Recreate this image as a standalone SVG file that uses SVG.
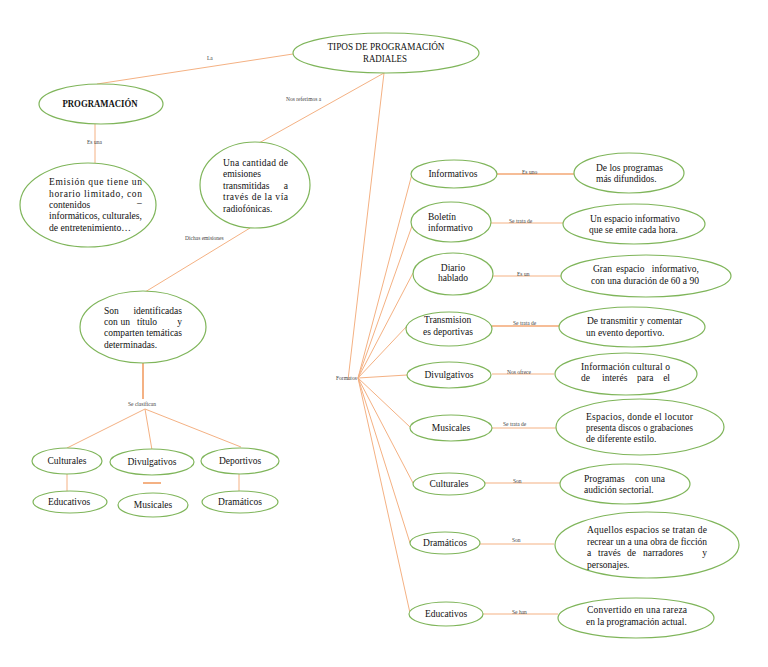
<svg xmlns="http://www.w3.org/2000/svg" width="768" height="667" viewBox="0 0 768 667">
<style>
.n{fill:#fff;stroke:#7fb55a;stroke-width:1.2}
.t{font-family:"Liberation Serif","Times New Roman","DejaVu Serif",serif;font-size:9.5px;fill:#111}
.c{text-anchor:middle}
.e{text-anchor:end}
.l{font-family:"Liberation Serif","Times New Roman",serif;font-size:5.5px;fill:#444}
.k{stroke:#f4b183;stroke-width:1;fill:none}
.d{stroke:#ed7d31;stroke-width:1.2;fill:none}
</style>
<rect width="768" height="667" fill="#fff"/>
<g id="connectors">
<line class="k" x1="293" y1="54" x2="97" y2="84"/>
<line class="k" x1="384" y1="73" x2="259" y2="143"/>
<line class="k" x1="384" y1="73" x2="348" y2="380"/>
<line class="k" x1="95" y1="124" x2="95" y2="163"/>
<line class="k" x1="250" y1="228" x2="145" y2="292"/>
<line class="d" x1="143" y1="363" x2="143" y2="399"/>
<line class="k" x1="145" y1="409" x2="67" y2="448"/>
<line class="k" x1="145" y1="409" x2="152" y2="450"/>
<line class="k" x1="145" y1="409" x2="241" y2="447"/>
<line class="k" x1="67" y1="474" x2="67" y2="492"/>
<line class="k" x1="239" y1="474" x2="239" y2="491"/>
<line class="d" x1="143" y1="483" x2="161" y2="483"/>
<line class="k" x1="358" y1="378" x2="412" y2="174"/>
<line class="k" x1="358" y1="378" x2="412" y2="226"/>
<line class="k" x1="358" y1="378" x2="413" y2="273"/>
<line class="k" x1="358" y1="378" x2="407" y2="326"/>
<line class="k" x1="358" y1="378" x2="407" y2="375"/>
<line class="k" x1="358" y1="378" x2="410" y2="427"/>
<line class="k" x1="358" y1="378" x2="413" y2="483"/>
<line class="k" x1="358" y1="378" x2="410" y2="543"/>
<line class="k" x1="358" y1="378" x2="410" y2="613"/>
<line class="d" x1="497" y1="174" x2="574" y2="174"/>
<line class="k" x1="491" y1="223" x2="563" y2="223"/>
<line class="k" x1="493" y1="276" x2="561" y2="276"/>
<line class="d" x1="492" y1="326" x2="559" y2="326"/>
<line class="k" x1="492" y1="374" x2="554" y2="374"/>
<line class="k" x1="492" y1="428" x2="556" y2="428"/>
<line class="d" x1="485" y1="483" x2="560" y2="483" style="stroke-opacity:0.6"/>
<line class="k" x1="480" y1="544" x2="554" y2="544"/>
<line class="k" x1="483" y1="614" x2="558" y2="614"/>
<text class="l" x="207" y="60">La</text>
<text class="l" x="286" y="101">Nos referimos a</text>
<text class="l" x="87" y="144">Es una</text>
<text class="l" x="185" y="240">Dichas emisiones</text>
<text class="l" x="128" y="406">Se clasifican</text>
<text class="l" x="336" y="380">Formatos</text>
<text class="l" x="522" y="174">Es uno</text>
<text class="l" x="509" y="223">Se trata de</text>
<text class="l" x="517" y="276">Es un</text>
<text class="l" x="513" y="325">Se trata de</text>
<text class="l" x="507" y="374">Nos ofrece</text>
<text class="l" x="503" y="426">Se trata de</text>
<text class="l" x="513" y="483">Son</text>
<text class="l" x="512" y="542">Son</text>
<text class="l" x="512" y="614">Se han</text>
</g>
<g id="tipos">
<ellipse class="n" cx="386" cy="53" rx="93" ry="20"/>
<text class="t c" x="386" y="50" font-size="10" textLength="117" lengthAdjust="spacingAndGlyphs">TIPOS DE PROGRAMACIÓN</text>
<text class="t c" x="385" y="62" font-size="10" textLength="44" lengthAdjust="spacingAndGlyphs">RADIALES</text>
</g>
<g id="programacion">
<ellipse class="n" cx="101" cy="104" rx="62" ry="20"/>
<text class="t c" x="100" y="107" font-size="10" font-weight="bold" textLength="75" lengthAdjust="spacingAndGlyphs">PROGRAMACIÓN</text>
</g>
<g id="emision">
<ellipse class="n" cx="88" cy="205" rx="68" ry="42"/>
<text class="t" x="49" y="185" textLength="93" lengthAdjust="spacing">Emisión que tiene un</text>
<text class="t" x="49" y="197" textLength="93" lengthAdjust="spacing">horario limitado, con</text>
<text class="t" x="49" y="207.5">contenidos</text>
<text class="t" x="137" y="206">–</text>
<text class="t" x="49" y="219" textLength="93" lengthAdjust="spacingAndGlyphs">informáticos, culturales,</text>
<text class="t" x="49" y="230.5" textLength="82" lengthAdjust="spacingAndGlyphs">de entretenimiento…</text>
</g>
<g id="cantidad">
<ellipse class="n" cx="255" cy="185" rx="55" ry="43"/>
<text class="t" x="223" y="165.5" textLength="65" lengthAdjust="spacing">Una cantidad de</text>
<text class="t" x="223" y="177">emisiones</text>
<text class="t" x="223" y="188.5">transmitidas</text>
<text class="t e" x="288" y="188.5">a</text>
<text class="t" x="223" y="200" textLength="65" lengthAdjust="spacing">través de la vía</text>
<text class="t" x="223" y="211.5">radiofónicas.</text>
</g>
<g id="identificadas">
<ellipse class="n" cx="143" cy="327" rx="63" ry="36"/>
<text class="t" x="104" y="314">Son</text>
<text class="t e" x="182" y="314">identificadas</text>
<text class="t" x="104" y="325">con</text>
<text class="t" x="120.5" y="325">un</text>
<text class="t" x="137" y="325">título</text>
<text class="t e" x="182" y="325">y</text>
<text class="t" x="104" y="336" textLength="78" lengthAdjust="spacingAndGlyphs">comparten temáticas</text>
<text class="t" x="104" y="347.5">determinadas.</text>
</g>
<g id="l-culturales">
<ellipse class="n" cx="67" cy="461" rx="35" ry="13"/>
<text class="t c" x="67" y="464">Culturales</text>
</g>
<g id="l-divulgativos">
<ellipse class="n" cx="152" cy="462" rx="42" ry="13"/>
<text class="t c" x="152" y="465">Divulgativos</text>
</g>
<g id="l-deportivos">
<ellipse class="n" cx="240" cy="461" rx="39" ry="13"/>
<text class="t c" x="240" y="464">Deportivos</text>
</g>
<g id="l-educativos">
<ellipse class="n" cx="70" cy="502" rx="37" ry="11"/>
<text class="t c" x="69" y="505">Educativos</text>
</g>
<g id="l-musicales">
<ellipse class="n" cx="153" cy="505" rx="35" ry="12"/>
<text class="t c" x="153" y="508">Musicales</text>
</g>
<g id="l-dramaticos">
<ellipse class="n" cx="240" cy="502" rx="38" ry="11"/>
<text class="t c" x="240" y="505">Dramáticos</text>
</g>
<g id="r-informativos">
<ellipse class="n" cx="454" cy="174" rx="43" ry="14"/>
<text class="t c" x="453" y="177">Informativos</text>
</g>
<g id="r-informativos-def">
<ellipse class="n" cx="629" cy="173" rx="55" ry="20"/>
<text class="t" x="596" y="171">De los programas</text>
<text class="t" x="596" y="182">más difundidos.</text>
</g>
<g id="r-boletin">
<ellipse class="n" cx="451" cy="222" rx="40" ry="20"/>
<text class="t" x="428" y="220">Boletín</text>
<text class="t" x="428" y="231">informativo</text>
</g>
<g id="r-boletin-def">
<ellipse class="n" cx="634" cy="224" rx="71" ry="20"/>
<text class="t" x="590" y="222">Un espacio informativo</text>
<text class="t" x="589" y="233">que se emite cada hora.</text>
</g>
<g id="r-diario">
<ellipse class="n" cx="453" cy="274" rx="40" ry="21"/>
<text class="t c" x="453" y="271">Diario</text>
<text class="t c" x="453" y="281">hablado</text>
</g>
<g id="r-diario-def">
<ellipse class="n" cx="646" cy="276" rx="85" ry="21"/>
<text class="t" x="593" y="272">Gran</text>
<text class="t" x="616" y="272">espacio</text>
<text class="t e" x="699" y="272">informativo,</text>
<text class="t" x="591" y="284" textLength="108" lengthAdjust="spacingAndGlyphs">con una duración de 60 a 90</text>
</g>
<g id="r-transmision">
<ellipse class="n" cx="449" cy="329" rx="43" ry="17"/>
<text class="t" x="424" y="323">Transmision</text>
<text class="t" x="423" y="335">es deportivas</text>
</g>
<g id="r-transmision-def">
<ellipse class="n" cx="632" cy="327" rx="73" ry="20"/>
<text class="t" x="587" y="324">De transmitir y comentar</text>
<text class="t" x="586" y="336">un evento deportivo.</text>
</g>
<g id="r-divulgativos">
<ellipse class="n" cx="449" cy="375" rx="42" ry="13"/>
<text class="t c" x="449" y="378">Divulgativos</text>
</g>
<g id="r-divulgativos-def">
<ellipse class="n" cx="626" cy="374" rx="71" ry="21"/>
<text class="t" x="581" y="370" textLength="89" lengthAdjust="spacing">Información cultural o</text>
<text class="t" x="581" y="381">de</text>
<text class="t" x="602" y="381">interés</text>
<text class="t" x="637" y="381">para</text>
<text class="t e" x="670" y="381">el</text>
</g>
<g id="r-musicales">
<ellipse class="n" cx="451" cy="428" rx="41" ry="13"/>
<text class="t c" x="451" y="431">Musicales</text>
</g>
<g id="r-musicales-def">
<ellipse class="n" cx="640" cy="427" rx="84" ry="28"/>
<text class="t" x="586" y="420" textLength="107" lengthAdjust="spacing">Espacios, donde el locutor</text>
<text class="t" x="586" y="431" textLength="107" lengthAdjust="spacingAndGlyphs">presenta discos o grabaciones</text>
<text class="t" x="586" y="441.5">de diferente estilo.</text>
</g>
<g id="r-culturales">
<ellipse class="n" cx="449" cy="484" rx="36" ry="11"/>
<text class="t c" x="449" y="487">Culturales</text>
</g>
<g id="r-culturales-def">
<ellipse class="n" cx="625" cy="484" rx="65" ry="20"/>
<text class="t" x="584" y="482">Programas</text>
<text class="t" x="635" y="482">con</text>
<text class="t e" x="665" y="482">una</text>
<text class="t" x="584" y="493">audición sectorial.</text>
</g>
<g id="r-dramaticos">
<ellipse class="n" cx="445" cy="543" rx="35" ry="11"/>
<text class="t c" x="445" y="546">Dramáticos</text>
</g>
<g id="r-dramaticos-def">
<ellipse class="n" cx="647" cy="545" rx="92" ry="33"/>
<text class="t" x="587" y="533" textLength="120" lengthAdjust="spacing">Aquellos espacios se tratan de</text>
<text class="t" x="587" y="544.5" textLength="120" lengthAdjust="spacingAndGlyphs">recrear un a una obra de ficción</text>
<text class="t" x="587" y="556">a</text>
<text class="t" x="598" y="556">través</text>
<text class="t" x="627" y="556">de</text>
<text class="t" x="643" y="556">narradores</text>
<text class="t e" x="707" y="556">y</text>
<text class="t" x="587" y="567.5">personajes.</text>
</g>
<g id="r-educativos">
<ellipse class="n" cx="446" cy="614" rx="37" ry="12"/>
<text class="t c" x="446" y="617">Educativos</text>
</g>
<g id="r-educativos-def">
<ellipse class="n" cx="636" cy="618" rx="78" ry="20"/>
<text class="t" x="587" y="613" textLength="100" lengthAdjust="spacing">Convertido en una rareza</text>
<text class="t" x="586" y="625">en la programación actual.</text>
</g>
</svg>
